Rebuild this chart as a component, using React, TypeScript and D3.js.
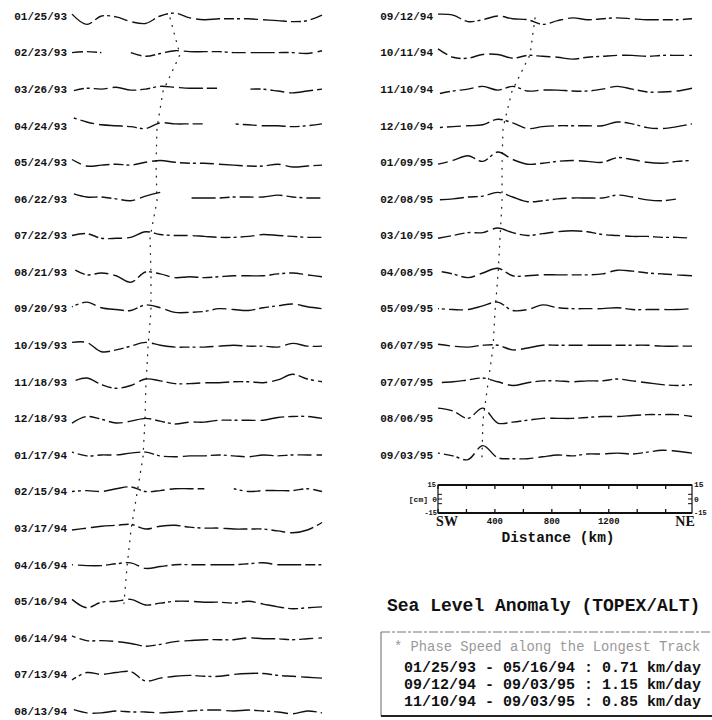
import * as d3 from "d3";

// along-track distance grid (km), SW -> NE
const distanceKm = [0, 105, 210, 315, 420, 525, 630, 735, 840, 945, 1050, 1155, 1260, 1365, 1470, 1575, 1680, 1785];

const leftDates = [
  "01/25/93", "02/23/93", "03/26/93", "04/24/93", "05/24/93", "06/22/93", "07/22/93",
  "08/21/93", "09/20/93", "10/19/93", "11/18/93", "12/18/93", "01/17/94", "02/15/94",
  "03/17/94", "04/16/94", "05/16/94", "06/14/94", "07/13/94", "08/13/94",
];

// sea level anomaly (cm), one row per date
const leftSeries: (number | null)[][] = [
  [2, -9, 0, -1, -6, -8, 0, 3, -2, -4, -3, -3, -3, -4, -5, -6, -5, 1],
  [0, 1, 0, null, 0, -4, -1, 2, 1, 1, 1, 0, 0, 0, 0, 0, -1, 2],
  [-2, 1, 0, 2, -1, 0, 3, 2, 1, 1, 1, null, 0, 0, -2, -4, -2, 0],
  [9, 4, 1, 0, -1, -3, 3, 2, 2, 2, null, 2, 1, 0, 0, -1, 0, 2],
  [3, -4, -3, -2, -3, 0, 2, 0, -1, -1, -2, -3, -4, -4, -2, -5, -4, -3],
  [6, 2, 2, 0, -2, 3, 7, null, 1, 1, 1, 2, 2, 2, 4, 2, 1, 1],
  [0, 2, -3, -3, -2, 4, 1, 0, 0, -1, -2, -2, -1, 1, 0, -1, -2, -2],
  [4, -3, -1, -4, -11, 0, -2, -6, -5, -6, -5, -4, -4, -4, -2, -1, -3, -5],
  [2, 7, 1, -1, -2, 4, 1, -4, -4, -3, 0, -1, -2, 1, 3, 5, 2, 0],
  [3, 3, -7, -5, -1, 3, 0, -2, -2, -2, -1, 0, -1, -1, -2, 2, -1, -1],
  [0, 4, -3, -7, -4, 3, 1, -2, -2, -1, -1, 0, 0, -1, 2, 8, 3, 0],
  [-5, 2, -1, -5, -3, 0, -3, -6, -4, -4, -2, -2, -2, -2, 1, 2, 2, 0],
  [3, -1, 0, 0, 2, 3, -1, -2, -1, -1, 0, -1, -2, 0, -1, 0, 0, 0],
  [0, 1, 0, 3, 5, 0, 1, 3, 3, 3, null, 3, 0, 1, 1, 1, 3, 0],
  [-2, 0, 2, 3, 4, -1, 2, 3, 1, 0, 0, -1, -1, -1, -3, -5, -2, 6],
  [0, -1, -1, 1, 2, -4, -2, 0, 0, 0, 0, 0, 1, 2, 0, 0, 0, 0],
  [2, -7, -1, 0, 2, -4, -2, 0, 0, -1, -1, -2, 0, -3, -6, -8, -7, -6],
  [2, -3, -3, -4, -6, -9, -7, -4, -3, -2, -2, -2, 0, -1, -1, -2, -1, 0],
  [-6, 2, 0, 2, 3, -7, -4, -2, -1, -2, -2, 0, 1, 1, -1, -2, -3, -4],
  [2, -2, -2, 0, -1, -1, -2, -1, 0, 1, 1, 0, 1, 0, -1, -3, 0, -2],
];

// crest position followed through the first 17 profiles (km)
const leftPeakKm = [700, 771, 650, 607, 600, 607, 557, 564, 564, 543, 528, 521, 507, 464, 421, 393, 371];

const rightDates = [
  "09/12/94", "10/11/94", "11/10/94", "12/10/94", "01/09/95", "02/08/95", "03/10/95",
  "04/08/95", "05/09/95", "06/07/95", "07/07/95", "08/06/95", "09/03/95",
];

const rightSeries: (number | null)[][] = [
  [2, 1, -6, -4, 0, -3, -4, -9, -5, -2, -4, -3, -2, -3, -4, -4, -4, -3],
  [4, -5, -6, -2, -2, -6, -3, -4, -5, -7, -5, -4, -3, -3, -4, -3, -3, -3],
  [-5, -2, 0, 3, -1, 3, -2, -1, -1, -2, -2, 0, 3, 0, -3, -3, -2, 1],
  [-2, -1, 0, 1, 7, 3, -3, -1, 0, 0, 0, 0, 4, 2, -2, -3, -1, 2],
  [-2, 2, 7, 1, 11, 3, -2, -1, 1, 2, 1, 0, 5, 3, 0, -1, 1, 2],
  [-1, 0, 2, 3, 7, 2, -3, -2, 0, 1, 1, 1, 4, 2, -1, -2, 0, null],
  [-3, 0, 3, 3, 8, 3, 0, 2, 4, 5, 4, 1, 0, -1, -1, -2, -2, -3],
  [1, -2, -6, -1, 4, -4, -4, -3, -3, -3, -3, -2, 2, 1, -1, -2, -3, -4],
  [0, -1, -1, 3, 7, -2, -1, 4, 1, 0, 0, 0, 1, -1, -1, -1, -1, 0],
  [1, -1, -2, 0, 0, -5, -3, 0, 0, 0, 0, 0, 0, 0, 0, -1, -1, -1],
  [-1, 0, 2, 4, 0, -4, -1, 1, 1, 0, 1, 1, 3, 1, -1, -3, -4, -3],
  [11, 8, 0, 11, -5, -4, -2, 0, 0, 0, 1, 2, 2, 3, 4, 4, 4, 2],
  [2, -1, -5, 10, -3, -4, -4, -2, 0, -1, 1, 1, 2, 1, 3, 5, 4, 2],
];

const rightPeakKm = [682, 647, 520, 457, 450, 450, 436, 422, 401, 387, 351, 316, 309];

const axisTickKm = [0, 200, 400, 600, 800, 1000, 1200, 1400, 1600];
const axisLabelKm = [400, 800, 1200];
const ampTicks = [-5, 0, 5];

const speedLines = [
  "01/25/93 - 05/16/94 : 0.71 km/day",
  "09/12/94 - 09/03/95 : 1.15 km/day",
  "11/10/94 - 09/03/95 : 0.85 km/day",
];

const MONO = "'Liberation Mono', 'DejaVu Sans Mono', monospace";
const SERIF = "'Liberation Serif', 'DejaVu Serif', serif";

const rowY = d3.scaleLinear().domain([0, 19]).range([16, 711]);
const amp = d3.scaleLinear().domain([-15, 15]).range([14, -14]);
const xLeft = d3.scaleLinear().domain([0, 1785]).range([72, 322]);
const xRight = d3.scaleLinear().domain([0, 1785]).range([438, 692]);

const Column = ({
  dates,
  series,
  peaks,
  x,
  labelEnd,
}: {
  dates: string[];
  series: (number | null)[][];
  peaks: number[];
  x: d3.ScaleLinear<number, number>;
  labelEnd: number;
}) => {
  const trail = d3
    .line<number>()
    .x((d) => x(d))
    .y((_, i) => rowY(i) + 2)(peaks);

  return (
    <g>
      <path d={trail ?? ""} fill="none" stroke="#222" strokeWidth={1.3} strokeDasharray="0.8 7" strokeLinecap="round" />
      {series.map((vals, r) => {
        const base = rowY(r);
        const line = d3
          .line<number | null>()
          .defined((d) => d !== null)
          .x((_, i) => x(distanceKm[i]))
          .y((d) => base + amp(d as number))
          .curve(d3.curveCatmullRom.alpha(0.5));
        return (
          <g key={dates[r]}>
            <text
              x={labelEnd}
              y={base}
              dy="0.35em"
              textAnchor="end"
              fontFamily={MONO}
              fontWeight="bold"
              fontSize={11}
              fill="#111"
            >
              {dates[r]}
            </text>
            <path
              d={line(vals) ?? ""}
              fill="none"
              stroke="#111"
              strokeWidth={1.4}
              strokeDasharray="24 4 10 3 3 4 14 5"
              strokeDashoffset={r * 13}
            />
          </g>
        );
      })}
    </g>
  );
};

const ScaleBox = () => {
  const cy = 499;
  const top = cy + amp(15);
  const bot = cy + amp(-15);
  const [x0, x1] = xRight.range();
  return (
    <g fontFamily={MONO} fontWeight="bold" fill="#111">
      <rect x={x0} y={top} width={x1 - x0} height={bot - top} fill="none" stroke="#111" strokeWidth={1.2} />
      <line x1={x0} x2={x1} y1={top} y2={top} stroke="#111" strokeWidth={2} />
      <line x1={x0} x2={x1} y1={bot} y2={bot} stroke="#111" strokeWidth={2} />
      {axisTickKm.map((k) => (
        <g key={k}>
          <line x1={xRight(k)} x2={xRight(k)} y1={top} y2={top + 4} stroke="#111" strokeWidth={1.3} />
          <line x1={xRight(k)} x2={xRight(k)} y1={bot} y2={bot - 4} stroke="#111" strokeWidth={1.3} />
        </g>
      ))}
      {ampTicks.map((t) => (
        <g key={t}>
          <line x1={x0} x2={x0 + 4} y1={cy + amp(t)} y2={cy + amp(t)} stroke="#111" />
          <line x1={x1} x2={x1 - 4} y1={cy + amp(t)} y2={cy + amp(t)} stroke="#111" />
        </g>
      ))}
      <text x={x0 - 2} y={top + 2} textAnchor="end" fontSize={7}>15</text>
      <text x={x0 - 1} y={cy + 3} textAnchor="end" fontSize={8}>0</text>
      <text x={x0 - 1} y={bot + 2} textAnchor="end" fontSize={7}>-15</text>
      <text x={x1 + 2} y={top + 2} fontSize={8}>15</text>
      <text x={x1 + 2} y={cy + 3} fontSize={8}>0</text>
      <text x={x1 + 2} y={bot + 2} fontSize={7}>-15</text>
      <text x={x0 - 10} y={cy + 3} textAnchor="end" fontSize={8}>[cm]</text>
      <text x={xRight(0) + 9} y={bot + 13} textAnchor="middle" fontFamily={SERIF} fontSize={14}>SW</text>
      <text x={x1 - 7} y={bot + 13} textAnchor="middle" fontFamily={SERIF} fontSize={14}>NE</text>
      {axisLabelKm.map((k) => (
        <text key={k} x={xRight(k)} y={bot + 11} textAnchor="middle" fontSize={9}>
          {k}
        </text>
      ))}
      <text x={558} y={bot + 29} textAnchor="middle" fontSize={14.5}>Distance (km)</text>
    </g>
  );
};

const Legend = () => (
  <g>
    <text x={387} y={611} fontFamily={MONO} fontWeight="bold" fontSize={18} fill="#111">
      Sea Level Anomaly (TOPEX/ALT)
    </text>
    <line x1={381} x2={712} y1={632} y2={632} stroke="#777" strokeWidth={1} strokeDasharray="9 2 3 2" />
    <line x1={381} x2={381} y1={632} y2={716} stroke="#666" strokeWidth={1} />
    <line x1={381} x2={712} y1={716} y2={716} stroke="#222" strokeWidth={2.2} />
    <text x={394} y={651} fontFamily={MONO} fontSize={13.8} fill="#999">
      * Phase Speed along the Longest Track
    </text>
    {speedLines.map((s, i) => (
      <text key={s} x={404} y={672 + i * 17} fontFamily={MONO} fontWeight="bold" fontSize={15} fill="#111">
        {s}
      </text>
    ))}
  </g>
);

export default function App() {
  return (
    <div style={{ position: "absolute", left: 0, top: 0 }}>
      <svg width={712} height={720} style={{ display: "block", background: "#fff" }}>
        <Column dates={leftDates} series={leftSeries} peaks={leftPeakKm} x={xLeft} labelEnd={67} />
        <Column dates={rightDates} series={rightSeries} peaks={rightPeakKm} x={xRight} labelEnd={433} />
        <ScaleBox />
        <Legend />
      </svg>
    </div>
  );
}
